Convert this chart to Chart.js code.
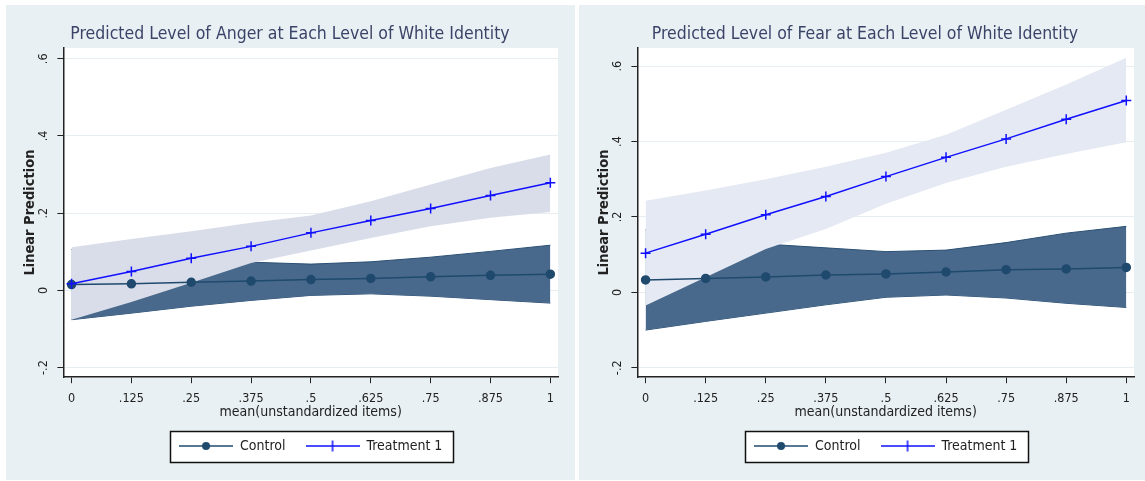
<!DOCTYPE html>
<html>
<head>
<meta charset="utf-8">
<script src="https://cdn.jsdelivr.net/npm/chart.js@4/dist/chart.umd.min.js"></script>
<style>
  html, body { margin: 0; padding: 0; background: #fff; }
  .panel { position: absolute; top: 5px; height: 475px; background: #e8f0f3; }
  #p1 { left: 6px; width: 569px; }
  #p2 { left: 579px; width: 566px; }
</style>
</head>
<body>
<div class="panel" id="p1"><canvas id="anger"></canvas></div>
<div class="panel" id="p2"><canvas id="fear"></canvas></div>
<script>
// x values (mean of unstandardized items) and tick labels
const xValues = [0, 0.125, 0.25, 0.375, 0.5, 0.625, 0.75, 0.875, 1];
const xTickLabels = ['0', '.125', '.25', '.375', '.5', '.625', '.75', '.875', '1'];
const yTicks = [-0.2, 0, 0.2, 0.4, 0.6];
const yTickLabels = ['-.2', '0', '.2', '.4', '.6'];

// Anger panel
const angerControl   = [0.015, 0.017, 0.021, 0.024, 0.028, 0.031, 0.035, 0.039, 0.042];
const angerControlLo = [-0.076, -0.059, -0.041, -0.026, -0.013, -0.009, -0.015, -0.024, -0.033];
const angerControlHi = [0.106, 0.093, 0.083, 0.073, 0.068, 0.074, 0.086, 0.101, 0.117];
const angerTreat     = [0.017, 0.049, 0.083, 0.114, 0.149, 0.181, 0.212, 0.246, 0.279];
const angerTreatLo   = [-0.076, -0.030, 0.020, 0.071, 0.103, 0.136, 0.166, 0.188, 0.203];
const angerTreatHi   = [0.112, 0.133, 0.153, 0.175, 0.194, 0.231, 0.274, 0.317, 0.352];

// Fear panel
const fearControl   = [0.033, 0.037, 0.041, 0.046, 0.049, 0.054, 0.060, 0.062, 0.066];
const fearControlLo = [-0.100, -0.077, -0.055, -0.033, -0.013, -0.007, -0.015, -0.029, -0.040];
const fearControlHi = [0.166, 0.147, 0.128, 0.118, 0.108, 0.112, 0.132, 0.157, 0.175];
const fearTreat     = [0.104, 0.154, 0.206, 0.254, 0.307, 0.358, 0.407, 0.459, 0.509];
const fearTreatLo   = [-0.035, 0.040, 0.115, 0.168, 0.235, 0.290, 0.333, 0.367, 0.398];
const fearTreatHi   = [0.243, 0.270, 0.300, 0.333, 0.370, 0.418, 0.484, 0.551, 0.622];

const FONT = "'DejaVu Sans Condensed', 'Liberation Sans', Arial, sans-serif";
const NAVY = '#1f4a6e';
const NAVY_FILL = '#48698b';
const BLUE = '#1010ff';

const pts = (ys) => xValues.map((x, i) => ({ x: x, y: ys[i] }));

// little line+marker swatches for the legend
function swatch(color, marker) {
  const c = document.createElement('canvas');
  c.width = 54; c.height = 12;
  const g = c.getContext('2d');
  g.strokeStyle = color; g.lineWidth = 1.5;
  g.beginPath(); g.moveTo(0, 6); g.lineTo(54, 6); g.stroke();
  if (marker === 'dot') {
    g.fillStyle = color;
    g.beginPath(); g.arc(27, 6, 4, 0, Math.PI * 2); g.fill();
  } else {
    g.beginPath(); g.moveTo(27, 0.5); g.lineTo(27, 11.5); g.stroke();
  }
  return c;
}
const controlSwatch = swatch(NAVY, 'dot');
const treatSwatch = swatch(BLUE, 'cross');

const plotBg = {
  id: 'plotBg',
  beforeDraw(chart) {
    const a = chart.chartArea, ctx = chart.ctx;
    ctx.save();
    ctx.fillStyle = '#ffffff';
    ctx.fillRect(a.left, a.top, a.right - a.left, a.bottom - a.top);
    ctx.restore();
  }
};

// Stata-style framed legend box
const legendFrame = {
  id: 'legendFrame',
  afterDraw(chart) {
    const boxes = chart.legend.legendHitBoxes;
    if (!boxes || !boxes.length) return;
    let l = Infinity, r = -Infinity, t = Infinity, b = -Infinity;
    boxes.forEach(h => {
      l = Math.min(l, h.left); r = Math.max(r, h.left + h.width);
      t = Math.min(t, h.top); b = Math.max(b, h.top + h.height);
    });
    const ctx = chart.ctx;
    ctx.save();
    ctx.fillStyle = '#ffffff';
    ctx.strokeStyle = '#111';
    ctx.lineWidth = 1.5;
    ctx.beginPath();
    ctx.rect(Math.round(l - 9) + 0.5, Math.round(t - 8) + 0.5, Math.round(r - l + 20), Math.round(b - t + 17));
    ctx.globalCompositeOperation = 'destination-over';
    ctx.fill();
    ctx.globalCompositeOperation = 'source-over';
    ctx.stroke();
    ctx.restore();
  }
};

function makeChart(id, title, control, cLo, cHi, treat, tLo, tHi, yMax, lightFill, padL, padR) {
  return new Chart(document.getElementById(id), {
    type: 'line',
    data: {
      datasets: [
        { label: 'Treatment 1', data: pts(treat), borderColor: BLUE, borderWidth: 1.5,
          pointStyle: 'cross', pointRadius: 5, pointBorderColor: BLUE, pointBorderWidth: 1.5, fill: false },
        { label: 'Control', data: pts(control), borderColor: NAVY, borderWidth: 1.5,
          pointStyle: 'circle', pointRadius: 4, pointBackgroundColor: NAVY, pointBorderColor: NAVY, fill: false },
        { label: 'tHi', data: pts(tHi), borderColor: lightFill, borderWidth: 0, pointRadius: 0,
          backgroundColor: lightFill, fill: '+1' },
        { label: 'tLo', data: pts(tLo), borderColor: lightFill, borderWidth: 0, pointRadius: 0, fill: false },
        { label: 'cHi', data: pts(cHi), borderColor: '#2b5075', borderWidth: 1, pointRadius: 0,
          backgroundColor: NAVY_FILL, fill: '+1' },
        { label: 'cLo', data: pts(cLo), borderColor: '#2b5075', borderWidth: 1, pointRadius: 0, fill: false }
      ]
    },
    options: {
      responsive: true,
      maintainAspectRatio: false,
      animation: false,
      events: [],
      layout: { padding: { left: padL, right: padR, top: 0, bottom: 17 } },
      plugins: {
        title: {
          display: true, text: title, color: '#3b4468',
          font: { family: FONT, size: 17.5, weight: 'normal' },
          padding: { top: 19, bottom: 3 }
        },
        legend: {
          display: true, position: 'bottom', fullSize: false,
          labels: {
            usePointStyle: true, pointStyleWidth: 54, boxHeight: 12,
            color: '#222', font: { family: FONT, size: 14 }, padding: 20,
            generateLabels: () => [
              { text: 'Control', pointStyle: controlSwatch, fontColor: '#222', datasetIndex: 1, lineWidth: 0 },
              { text: 'Treatment 1', pointStyle: treatSwatch, fontColor: '#222', datasetIndex: 0, lineWidth: 0 }
            ]
          }
        },
        tooltip: { enabled: false }
      },
      scales: {
        x: {
          type: 'linear', min: -0.017, max: 1.016,
          afterBuildTicks: (s) => { s.ticks = xValues.map(v => ({ value: v })); },
          ticks: {
            autoSkip: false, maxRotation: 0, padding: 8, color: '#222',
            font: { family: FONT, size: 12.5 },
            callback: (v) => xTickLabels[xValues.indexOf(v)]
          },
          grid: { drawOnChartArea: false, tickColor: '#222', tickLength: 6 },
          border: { color: '#222', width: 1.5 },
          title: { display: true, text: 'mean(unstandardized items)', color: '#222',
                   font: { family: FONT, size: 14 }, padding: { top: -10, bottom: -2 } }
        },
        y: {
          type: 'linear', min: -0.225, max: yMax,
          afterBuildTicks: (s) => { s.ticks = yTicks.map(v => ({ value: v })); },
          ticks: {
            autoSkip: false, minRotation: 90, maxRotation: 90, crossAlign: 'center', padding: 6,
            color: '#222', font: { family: FONT, size: 12.5 },
            callback: (v) => yTickLabels[yTicks.indexOf(v)]
          },
          grid: { color: '#e6eef2', lineWidth: 1, tickColor: '#222', tickLength: 6 },
          border: { color: '#222', width: 1.5 },
          title: { display: true, text: 'Linear Prediction', color: '#222',
                   font: { family: FONT, size: 14.5, weight: 'bold' }, padding: { top: 0, bottom: -9 } }
        }
      }
    },
    plugins: [plotBg, legendFrame]
  });
}

makeChart('anger', 'Predicted Level of Anger at Each Level of White Identity',
  angerControl, angerControlLo, angerControlHi, angerTreat, angerTreatLo, angerTreatHi, 0.628, '#d9dde9', 16, 17);
makeChart('fear', 'Predicted Level of Fear at Each Level of White Identity',
  fearControl, fearControlLo, fearControlHi, fearTreat, fearTreatLo, fearTreatHi, 0.648, '#e5e9f3', 17, 11);
</script>
</body>
</html>
